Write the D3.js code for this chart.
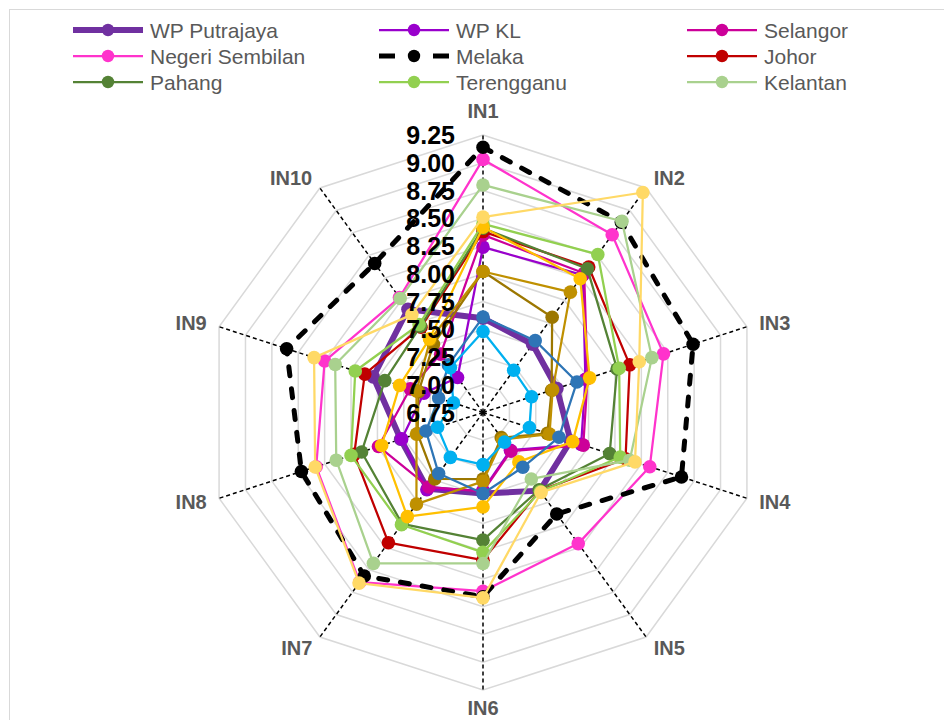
<!DOCTYPE html>
<html>
<head>
<meta charset="utf-8">
<script src="https://cdn.jsdelivr.net/npm/d3@7"></script>
<style>
  body { margin: 0; background: #ffffff; }
  svg { display: block; font-family: "Liberation Sans", Arial, sans-serif; }
</style>
</head>
<body>
<svg id="chart" width="944" height="720"></svg>
<script>
// Indicator axes of the radar
const categories = ["IN1", "IN2", "IN3", "IN4", "IN5", "IN6", "IN7", "IN8", "IN9", "IN10"];
// Radial value ticks (centre = lowest)
const tickValues = [6.75, 7.00, 7.25, 7.50, 7.75, 8.00, 8.25, 8.50, 8.75, 9.00, 9.25];

// Scores per state, IN1..IN10
const putrajaya     = [7.60, 7.51, 7.45, 7.58, 7.62, 7.48, 7.60, 7.53, 7.79, 7.90];
const kualaLumpur   = [8.24, 8.28, 7.72, 7.68, 7.17, 7.45, 7.61, 7.52, 7.31, 7.14];
const selangor      = [8.35, 8.30, 7.74, 7.70, 7.18, 7.46, 7.58, 7.74, 7.44, 7.40];
const negeriSembilan= [9.03, 8.73, 8.46, 8.33, 8.21, 8.36, 8.64, 8.33, 8.25, 8.03];
const melaka        = [9.14, 8.87, 8.74, 8.63, 7.88, 8.41, 8.57, 8.47, 8.61, 8.41];
const johor         = [8.38, 8.37, 8.14, 8.10, 7.62, 8.08, 8.20, 7.97, 7.87, 7.70];
const pahang        = [8.41, 8.35, 8.02, 7.95, 7.61, 7.90, 7.99, 7.90, 7.68, 7.71];
const terengganu    = [8.45, 8.51, 8.04, 8.05, 7.63, 8.01, 8.00, 8.00, 7.96, 7.73];
const kelantan      = [8.80, 8.88, 8.35, 8.14, 7.49, 8.11, 8.43, 8.14, 8.15, 8.02];
const perlis        = [8.02, 7.81, 7.40, 7.36, 7.03, 7.35, 7.49, 7.37, 7.36, 7.51];
const kedah         = [8.02, 8.09, 7.41, 7.38, 7.05, 7.37, 7.77, 7.38, 7.38, 7.56];
const pulauPinang   = [8.42, 8.24, 7.76, 7.60, 7.30, 7.60, 7.91, 7.71, 7.54, 7.57];
const perak         = [7.61, 7.55, 7.64, 7.47, 7.36, 7.48, 7.43, 7.29, 7.17, 7.28];
const sabah         = [7.48, 7.22, 7.21, 7.19, 7.08, 7.22, 7.25, 7.18, 7.03, 7.25];
const sarawak       = [8.51, 9.20, 8.23, 8.19, 7.64, 8.42, 8.65, 8.34, 8.35, 7.84];

const seriesNames = ["WP Putrajaya", "WP KL", "Selangor", "Negeri Sembilan", "Melaka", "Johor",
  "Pahang", "Terengganu", "Kelantan", "Perlis", "Kedah", "Pulau Pinang", "Perak", "Sabah", "Sarawak"];
const seriesValues = [putrajaya, kualaLumpur, selangor, negeriSembilan, melaka, johor,
  pahang, terengganu, kelantan, perlis, kedah, pulauPinang, perak, sabah, sarawak];
const legendCount = 9;

// Styling per series (drawing order = listing order)
const seriesColors = ["#7030A0", "#9900CC", "#CC0099", "#FF33CC", "#000000", "#C00000",
  "#548235", "#92D050", "#A9D18E", "#9C7700", "#BF9000", "#FFC000", "#2E75B6", "#00B0F0", "#FFD966"];
const seriesWidths = [6, 2.25, 2.25, 2.25, 5, 2.25, 2.25, 2.25, 2.25, 2.25, 2.25, 2.25, 2.25, 2.25, 2.25];
const seriesDashed = [false, false, false, false, true, false, false, false, false, false, false, false, false, false, false];

const svg = d3.select("#chart");
const cx = 483, cy = 412.5, R = 277.5;
const n = categories.length;

// outer chart frame
svg.append("rect")
  .attr("x", 9.5).attr("y", 9.5).attr("width", 960).attr("height", 760)
  .attr("fill", "none").attr("stroke", "#D9D9D9").attr("stroke-width", 1);

const rScale = d3.scaleLinear().domain([tickValues[0], tickValues[tickValues.length - 1]]).range([0, R]);
const angle = d3.scaleLinear().domain([0, n]).range([0, 2 * Math.PI]);

const g = svg.append("g").attr("transform", `translate(${cx},${cy})`);

const ringLine = d3.lineRadial()
  .angle((d, i) => angle(i))
  .radius(d => d)
  .curve(d3.curveLinearClosed);

// grid rings
g.append("g").selectAll("path")
  .data(tickValues.slice(1))
  .join("path")
  .attr("d", v => ringLine(categories.map(() => rScale(v))))
  .attr("fill", "none")
  .attr("stroke", "#D9D9D9")
  .attr("stroke-width", 1.5);

// spokes
g.append("g").selectAll("line")
  .data(categories)
  .join("line")
  .attr("x1", 0).attr("y1", 0)
  .attr("x2", (d, i) => R * Math.sin(angle(i)))
  .attr("y2", (d, i) => -R * Math.cos(angle(i)))
  .attr("stroke", "#000")
  .attr("stroke-width", 1.5)
  .attr("stroke-dasharray", "4,3");

// category labels
const labelR = R + 13;
g.append("g").selectAll("text")
  .data(categories)
  .join("text")
  .attr("x", (d, i) => labelR * Math.sin(angle(i)))
  .attr("y", (d, i) => -labelR * Math.cos(angle(i)))
  .attr("text-anchor", (d, i) => {
    const s = Math.sin(angle(i));
    return s > 0.1 ? "start" : (s < -0.1 ? "end" : "middle");
  })
  .attr("dy", (d, i) => {
    const c = Math.cos(angle(i));
    return c > 0.99 ? "-0.2em" : (c < -0.99 ? "0.62em" : "0.36em");
  })
  .attr("font-size", 20)
  .attr("font-weight", "bold")
  .attr("fill", "#595959")
  .text(d => d);

// series
const dataLine = d3.lineRadial()
  .angle((d, i) => angle(i))
  .radius(d => rScale(d))
  .curve(d3.curveLinearClosed);

const seriesG = g.append("g");
seriesValues.forEach((vals, s) => {
  const sg = seriesG.append("g");
  sg.append("path")
    .attr("d", dataLine(vals))
    .attr("fill", "none")
    .attr("stroke", seriesColors[s])
    .attr("stroke-width", seriesWidths[s])
    .attr("stroke-linejoin", "round")
    .attr("stroke-linecap", seriesDashed[s] ? "round" : "butt")
    .attr("stroke-dasharray", seriesDashed[s] ? "9,13" : null);
  sg.selectAll("circle")
    .data(vals)
    .join("circle")
    .attr("cx", (d, i) => rScale(d) * Math.sin(angle(i)))
    .attr("cy", (d, i) => -rScale(d) * Math.cos(angle(i)))
    .attr("r", 6.8)
    .attr("fill", seriesColors[s]);
});

// radial value labels
g.append("g").selectAll("text")
  .data(tickValues)
  .join("text")
  .attr("x", -28)
  .attr("y", v => -rScale(v))
  .attr("dy", "0.36em")
  .attr("text-anchor", "end")
  .attr("font-size", 25)
  .attr("font-weight", "bold")
  .attr("fill", "#000")
  .text(v => d3.format(".2f")(v));

// legend
const legendCols = [73, 379, 687];
const legendRows = [30, 56, 82];
const legend = svg.append("g");
seriesNames.slice(0, legendCount).forEach((name, s) => {
  const x0 = legendCols[s % 3], y0 = legendRows[Math.floor(s / 3)];
  const item = legend.append("g").attr("transform", `translate(${x0},${y0})`);
  item.append("line")
    .attr("x1", 0).attr("x2", 70).attr("y1", 0).attr("y2", 0)
    .attr("stroke", seriesColors[s])
    .attr("stroke-width", seriesWidths[s])
    .attr("stroke-dasharray", seriesDashed[s] ? "16,38" : null);
  item.append("circle")
    .attr("cx", 35).attr("cy", 0).attr("r", 6.2)
    .attr("fill", seriesColors[s]);
  item.append("text")
    .attr("x", 77).attr("y", 0).attr("dy", "0.36em")
    .attr("font-size", 21)
    .attr("fill", "#595959")
    .text(name);
});
</script>
</body>
</html>
